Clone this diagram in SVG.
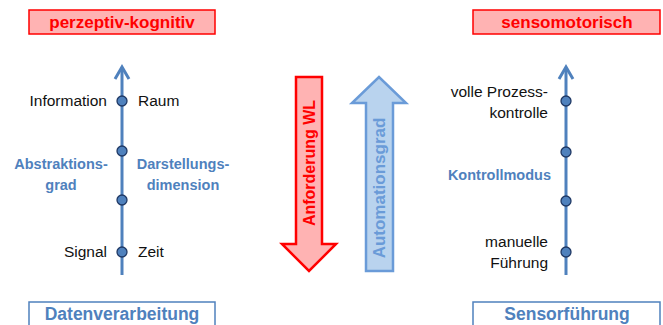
<svg xmlns="http://www.w3.org/2000/svg" width="663" height="325" viewBox="0 0 663 325">
<style>
.t{font-family:"Liberation Sans",Arial,sans-serif;font-size:15.5px;fill:#111}
.b{font-family:"Liberation Sans",Arial,sans-serif;font-weight:bold;font-size:14.5px;fill:#4F81BD}
.title{font-family:"Liberation Sans",Arial,sans-serif;font-weight:bold;font-size:17px;fill:#FF0000}
.box{fill:#FFB3B3;stroke:#FF0000;stroke-width:1.5}
.bbox{fill:#fff;stroke:#4F81BD;stroke-width:1.5}
.axis{stroke:#4F81BD;stroke-width:3;fill:none}
.dot{fill:#4F81BD;stroke:#1F3864;stroke-width:1.3}
.btitle{font-family:"Liberation Sans",Arial,sans-serif;font-weight:bold;font-size:17.5px;fill:#4F81BD}
</style>
<g id="title-left"><rect class="box" x="29" y="10" width="186" height="24"/><text class="title" x="122" y="28" text-anchor="middle">perzeptiv-kognitiv</text></g>
<g id="title-right"><rect class="box" x="473" y="10" width="187" height="24"/><text class="title" x="567" y="28" text-anchor="middle">sensomotorisch</text></g>
<g id="connectors">
<line class="axis" x1="122" y1="68" x2="122" y2="275"/>
<polyline class="axis" points="115,79 122,67 129,79"/>
<line class="axis" x1="566" y1="68" x2="566" y2="275"/>
<polyline class="axis" points="559,79 566,67 573,79"/>
</g>
<g id="axis-left">
<circle class="dot" cx="122" cy="101" r="5"/><circle class="dot" cx="122" cy="151" r="5"/><circle class="dot" cx="122" cy="200" r="5"/><circle class="dot" cx="122" cy="252" r="5"/>
<text class="t" x="107" y="106" text-anchor="end">Information</text>
<text class="t" x="138" y="106">Raum</text>
<text class="b" x="61" y="169" text-anchor="middle">Abstraktions-</text>
<text class="b" x="61" y="190" text-anchor="middle">grad</text>
<text class="b" x="183" y="169" text-anchor="middle">Darstellungs-</text>
<text class="b" x="183" y="190" text-anchor="middle">dimension</text>
<text class="t" x="107" y="257" text-anchor="end">Signal</text>
<text class="t" x="138" y="257">Zeit</text>
</g>
<g id="axis-right">
<circle class="dot" cx="566" cy="101" r="5"/><circle class="dot" cx="566" cy="152" r="5"/><circle class="dot" cx="566" cy="201" r="5"/><circle class="dot" cx="566" cy="252" r="5"/>
<text class="t" x="548" y="97" text-anchor="end">volle Prozess-</text>
<text class="t" x="548" y="118" text-anchor="end">kontrolle</text>
<text class="b" x="551" y="180" text-anchor="end">Kontrollmodus</text>
<text class="t" x="548" y="247" text-anchor="end">manuelle</text>
<text class="t" x="548" y="268" text-anchor="end">Führung</text>
</g>
<g id="arrow-anforderung">
<polygon points="296,77 322,77 322,244 336,244 309,271 282,244 296,244" fill="#FFB3B3" stroke="#FF0000" stroke-width="2.5"/>
<text class="title" style="font-size:16px" transform="translate(315,163) rotate(-90)" text-anchor="middle">Anforderung WL</text>
</g>
<g id="arrow-automation">
<polygon points="366,271 393,271 393,103 406,103 379,77 352,103 366,103" fill="#B9D3EE" stroke="#6A9BD8" stroke-width="2.5"/>
<text class="btitle" transform="translate(385,188) rotate(-90)" text-anchor="middle" style="fill:#6A9BD8;font-size:17px">Automationsgrad</text>
</g>
<g id="box-datenverarbeitung"><rect class="bbox" x="29" y="302" width="186" height="30"/><text class="btitle" x="122" y="320" text-anchor="middle">Datenverarbeitung</text></g>
<g id="box-sensorfuehrung"><rect class="bbox" x="473" y="302" width="187" height="30"/><text class="btitle" x="567" y="320" text-anchor="middle">Sensorführung</text></g>
</svg>
